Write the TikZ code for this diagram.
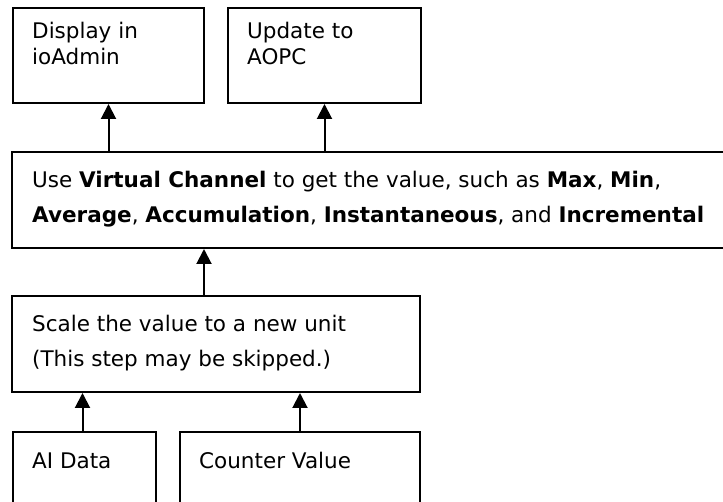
\documentclass[tikz,border=0pt]{standalone}
\usepackage{fontspec}
\setmainfont{DejaVu Sans}
\usetikzlibrary{arrows.meta,positioning}

\begin{document}
\begin{tikzpicture}[x=1pt, y=-1pt,
  every node/.style={font=\fontsize{21.5}{26}\selectfont},
  blk/.style={draw, line width=2pt, anchor=north west, inner sep=0pt},
  txt/.style={anchor=base west, align=left, inner sep=0pt, xshift=20pt, yshift=-37pt},
  wide/.style={font=\fontsize{21.5}{35}\selectfont, xshift=1pt, yshift=-35pt},
  arr/.style={line width=2pt, -{Triangle[width=15pt,length=15pt]}},
]
\useasboundingbox (0,0) rectangle (723,502);
\clip (0,0) rectangle (723,502);
% outputs
\node[blk, minimum width=191pt, minimum height=95pt,
      label={[txt, yshift=-21pt]north west:Display in\\ioAdmin}] (disp) at (12,7) {};
\node[blk, minimum width=193pt, minimum height=95pt,
      label={[txt, yshift=-21pt]north west:Update to\\AOPC}] (aopc) at (227,7) {};
% virtual channel
\node[blk, minimum width=720pt, minimum height=96pt,
      label={[txt, wide]north west:Use \textbf{Virtual Channel} to get the value, such as \textbf{Max}, \textbf{Min},\\
      \textbf{Average}, \textbf{Accumulation}, \textbf{Instantaneous}, and \textbf{Incremental}}] (virt) at (11,151) {};
% scaling
\node[blk, minimum width=408pt, minimum height=96pt,
      label={[txt, wide]north west:Scale the value to a new unit\\(This step may be skipped.)}] (scale) at (11,295) {};
% inputs
\node[blk, minimum width=143pt, minimum height=90pt,
      label={[txt]north west:AI Data}] (ai) at (12,431) {};
\node[blk, minimum width=240pt, minimum height=90pt,
      label={[txt]north west:Counter Value}] (cnt) at (179,431) {};

\draw[arr] (disp.south |- virt.north) -- (disp.south);
\draw[arr] (aopc.south |- virt.north) -- (aopc.south);
\draw[arr] ([xshift=-12pt]scale.north) -- ([xshift=-12pt]scale.north |- virt.south);
\draw[arr] ([xshift=-2pt]ai.north) -- ([xshift=-2pt]ai.north |- scale.south);
\draw[arr] (cnt.north) -- (cnt.north |- scale.south);
\end{tikzpicture}
\end{document}
